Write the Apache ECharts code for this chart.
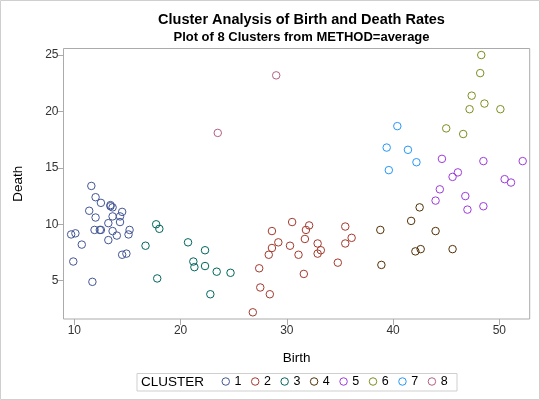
<!DOCTYPE html>
<html>
<head>
<meta charset="utf-8">
<script src="https://cdn.jsdelivr.net/npm/echarts@6/dist/echarts.min.js"></script>
<style>html,body{margin:0;padding:0;background:#fff}#c{width:540px;height:400px}</style>
</head>
<body>
<div id="c"></div>
<script>
var FONT = '"Liberation Sans", Arial, sans-serif';
var titleText = 'Cluster Analysis of Birth and Death Rates';
var subtitleText = 'Plot of 8 Clusters from METHOD=average';
var xName = 'Birth';
var yName = 'Death';
var legendTitle = 'CLUSTER';
var clusterNames = ['1','2','3','4','5','6','7','8'];
var clusterColors = ['#445694','#A23A2E','#01665E','#543005','#9D3CDB','#7F8E1F','#2597FA','#B26084'];
var xTicks = [10,20,30,40,50];
var yTicks = [5,10,15,20,25];

var birth1 = [12.5,13.4,12,11.6,14.3,13.6,14,15.2,13.4,12,13.2,12.4,13.6,11.4,10.1,15.1,9.7,13.2,14.3,11.9,10.7,14.5,12.5,13.6,14.9,9.9,14.5,11.7];
var death1 = [11.9,11.7,12.4,13.4,10.2,10.7,9,9.5,11.6,10.6,10.1,9.5,9.4,11.2,9.2,9.1,9.1,8.6,10.7,9.5,8.2,11.1,9.5,11.5,7.4,6.7,7.3,4.9];
var birth2 = [28.6,27.4,32.9,28.3,34.8,32.9,27.5,28.4,26.8,31.7,29.2,30.5,28.6,31.6,36.1,30.3,33.2,31.8,35.5,35.5,32.1,31.1];
var death2 = [7.9,6.1,7.4,7.3,6.6,8.3,4.4,3.8,2.2,8.7,8.4,10.2,9.4,5.6,8.8,8.1,7.7,9.5,8.3,9.8,9.9,7.3];
var birth3 = [17.7,18,16.7,17.8,20.7,24.7,23.4,22.3,21.2,21.3,22.3,22.8];
var death3 = [10,9.6,8.1,5.2,8.4,5.7,5.8,6.3,6.7,6.2,7.7,3.8];
var birth4 = [42.6,38.9,45.6,42.1,38.8,44,41.7,42.5];
var death4 = [7.8,6.4,7.8,7.6,9.5,9.4,10.3,11.5];
var birth5 = [48.5,46.1,44.4,47,44,48.5,44.6,46.8,52.2,50.5,45.6,51.1];
var death5 = [11.6,14.6,13.1,11.3,12.1,15.6,15.8,12.5,15.6,14,14.2,13.7];
var birth6 = [46.6,47.2,48.6,47.4,48.3,45,48.2,50.1];
var death6 = [18,20.2,20.7,21.4,25,18.5,23.4,20.2];
var birth7 = [40.4,42.2,41.4,39.6,39.4];
var death7 = [18.7,15.5,16.6,14.8,16.8];
var birth8 = [29,23.5];
var death8 = [23.2,18.1];

var births = [birth1,birth2,birth3,birth4,birth5,birth6,birth7,birth8];
var deaths = [death1,death2,death3,death4,death5,death6,death7,death8];

function pairs(b, d){ return b.map(function(v,i){ return [v, d[i]]; }); }

var series = clusterNames.map(function(n, k){
  return {
    name: n, type: 'scatter', symbol: 'circle', symbolSize: 7.5,
    data: pairs(births[k], deaths[k]),
    itemStyle: { color: 'rgba(0,0,0,0)', borderColor: clusterColors[k], borderWidth: 1, opacity: 1 },
    emphasis: { disabled: true },
    animation: false
  };
});

var chart = echarts.init(document.getElementById('c'), null, {renderer: 'canvas'});
chart.setOption({
  animation: false,
  backgroundColor: '#fff',
  title: [
    { text: titleText, left: 296.5, top: 7, textAlign: 'center',
      textStyle: { fontFamily: FONT, fontSize: 14.5, fontWeight: 'bold', color: '#000' } },
    { text: subtitleText, left: 296.5, top: 26, textAlign: 'center',
      textStyle: { fontFamily: FONT, fontSize: 13, fontWeight: 'bold', color: '#000' } }
  ],
  grid: { left: 63.5, right: 10.3, top: 48.5, bottom: 81, show: true, borderColor: '#ababab', borderWidth: 1, backgroundColor: 'transparent' },
  xAxis: {
    type: 'value', min: 8.98, max: 52.86,
    name: xName, nameLocation: 'middle', nameGap: 32,
    nameTextStyle: { fontFamily: FONT, fontSize: 13.5, color: '#000' },
    axisLine: { show: false },
    splitLine: { show: false },
    axisTick: { show: true, length: 6, customValues: xTicks, lineStyle: { color: '#ababab' } },
    axisLabel: { customValues: xTicks, margin: 6, fontFamily: FONT, fontSize: 12, color: '#333' }
  },
  yAxis: {
    type: 'value', min: 1.606, max: 25.58,
    name: yName, nameLocation: 'middle', nameGap: 38, nameRotate: 90,
    nameTextStyle: { fontFamily: FONT, fontSize: 13.5, color: '#000' },
    axisLine: { show: false },
    splitLine: { show: false },
    axisTick: { show: true, length: 6, customValues: yTicks, lineStyle: { color: '#ababab' } },
    axisLabel: { customValues: yTicks, margin: 5, fontFamily: FONT, fontSize: 12, color: '#333' }
  },
  legend: {
    data: clusterNames, left: 221.5, top: 375, padding: 0,
    itemWidth: 7.5, itemHeight: 7.5, itemGap: 9.5, icon: 'circle',
    itemStyle: { borderWidth: 1 },
    selectedMode: false,
    textStyle: { fontFamily: FONT, fontSize: 12.5, color: '#000', padding: [0,0,0,0] }
  },
  graphic: [
    { type: 'rect', shape: { x: 0.5, y: 0.5, width: 539, height: 399 }, style: { fill: 'none', stroke: '#cfcfcf', lineWidth: 1 }, silent: true },
    { type: 'rect', shape: { x: 137, y: 373.5, width: 320, height: 17.5 }, style: { fill: 'none', stroke: '#cfcfcf', lineWidth: 1 }, silent: true },
    { type: 'text', left: 141, top: 375, style: { text: legendTitle, fontFamily: FONT, fontSize: 13.5, fill: '#000' }, silent: true }
  ],
  series: series
});
</script>
</body>
</html>
